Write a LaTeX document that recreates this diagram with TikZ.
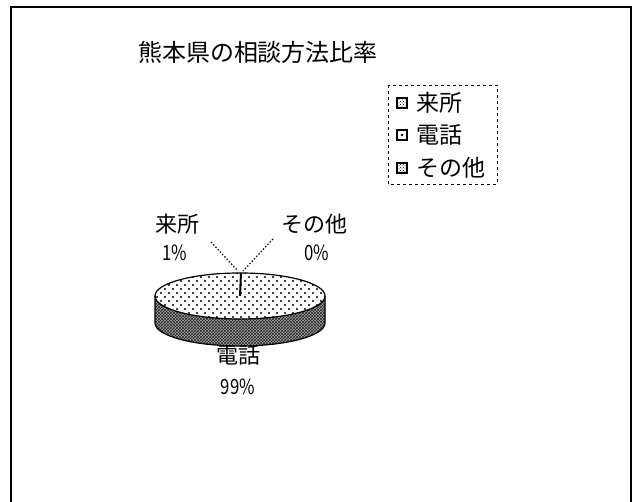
\documentclass[tikz,border=0pt]{standalone}
\usepackage{fontspec}
\usepackage{graphicx}
\setmainfont{Noto Sans CJK JP}
\usetikzlibrary{patterns}
\pgfdeclarepatternformonly{coarse dots}{\pgfpoint{-1pt}{-1pt}}{\pgfpoint{9pt}{9pt}}{\pgfpoint{8pt}{8pt}}{%
  \pgfpathcircle{\pgfpoint{1pt}{1pt}}{1.1pt}\pgfpathcircle{\pgfpoint{5pt}{5pt}}{1.1pt}\pgfusepath{fill}}
\newcommand{\narrow}[1]{\scalebox{0.8}[1]{#1}}
\tikzset{
  lbl/.style={font=\fontsize{22}{24}\selectfont, inner sep=0pt},
  pct/.style={font=\fontsize{21}{23}\selectfont, inner sep=0pt},
  leg/.style={font=\fontsize{23}{25}\selectfont, inner sep=0pt, anchor=west},
  legbox/.style={draw, line width=1.2pt, minimum size=10pt, inner sep=0pt},
  leader/.style={dotted, line width=1.3pt}
}
\begin{document}
\begin{tikzpicture}[x=1pt,y=1pt]
    \useasboundingbox (0,0) rectangle (638,502);
    % frame
    \draw[line width=1.2pt] (11,0) -- (11,495) -- (631,495) -- (631,0);

    \node[font=\fontsize{24}{26}\selectfont] (title) at (258,450) {熊本県の相談方法比率};

    % legend
    \draw[dashed, line width=0.8pt] (388,417) rectangle (497,318);
    \node[legbox, pattern=crosshatch dots] (m1) at (402,399) {};
    \node[legbox] (m2) at (402,367) {};
    \fill (m2.center) circle (1.3pt);
    \node[legbox, pattern=crosshatch dots] (m3) at (402,334) {};
    \node[leg] (l1) at (416,399) {来所};
    \node[leg] (l2) at (416,367) {電話};
    \node[leg] (l3) at (416,334) {その他};

    % pie
    \fill[black!35] (155,206) -- (155,179) arc[start angle=180, end angle=360, x radius=85, y radius=23] -- (325,206) arc[start angle=0, end angle=-180, x radius=85, y radius=23] -- cycle;
    \fill[pattern=crosshatch, pattern color=black!85] (155,206) -- (155,179) arc[start angle=180, end angle=360, x radius=85, y radius=23] -- (325,206) arc[start angle=0, end angle=-180, x radius=85, y radius=23] -- cycle;
    \draw[line width=1.2pt] (155,206) -- (155,179) arc[start angle=180, end angle=360, x radius=85, y radius=23] -- (325,206);
    \draw[line width=1.2pt, pattern=coarse dots] (240,206) ellipse[x radius=85, y radius=23];
    \coordinate (ctr) at (240,206);
    \coordinate (rim) at (241,229);
    \draw[line width=2pt] (ctr) -- (rim);

    % labels
    \node[lbl] (raisho) at (177,278) {来所};
    \node[pct] (raishoP) at (175,249) {\narrow{1\%}};
    \node[lbl] (sonota) at (314,278) {その他};
    \node[pct] (sonotaP) at (317,249) {\narrow{0\%}};
    \node[lbl] (denwa) at (238,147) {電話};
    \node[pct] (denwaP) at (238,115) {\narrow{99\%}};

    \coordinate (footA) at (211,260);
    \coordinate (footB) at (273,263);
    \coordinate (tipA) at (238,231);
    \coordinate (tipB) at (243,231);
    \draw[leader] (footA) -- (tipA);
    \draw[leader] (footB) -- (tipB);
\end{tikzpicture}
\end{document}
